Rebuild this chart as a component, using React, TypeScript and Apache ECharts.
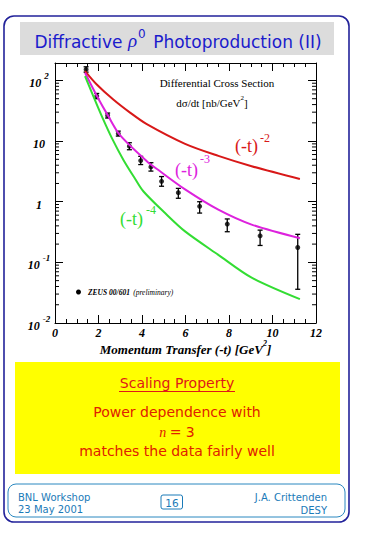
import React, { useEffect, useRef } from "react";
import * as echarts from "echarts";

// ---- data ----
const tData = [1.43, 1.92, 2.42, 2.91, 3.42, 3.94, 4.41, 4.9, 5.67, 6.65, 7.92, 9.43, 11.16];
const xsData = [152, 55.2, 26.4, 13.3, 8.24, 4.77, 3.75, 2.17, 1.41, 0.84, 0.428, 0.274, 0.176];
const errHi = [168, 61, 29, 14.6, 9.4, 5.6, 4.4, 2.6, 1.66, 1.0, 0.52, 0.34, 0.29];
const errLo = [137, 50, 24, 12.1, 7.2, 4.1, 3.2, 1.8, 1.14, 0.65, 0.32, 0.19, 0.036];

const redT = [1.38, 1.92, 2.68, 3.45, 4.22, 5.98, 7.51, 9.04, 11.26];
const redV = [143, 86, 48.5, 29.5, 19.0, 9.0, 5.7, 3.85, 2.37];
const magT = [1.38, 1.92, 2.45, 2.99, 4.22, 4.83, 5.98, 7.51, 9.04, 11.26];
const magV = [134, 56, 25.8, 12.5, 4.66, 3.18, 1.6, 0.74, 0.42, 0.25];
const grnT = [1.38, 1.76, 2.15, 2.61, 3.14, 3.68, 4.06, 5.06, 5.98, 7.51, 9.04, 11.26];
const grnV = [118, 55.2, 25.8, 11.3, 4.94, 2.4, 1.49, 0.65, 0.324, 0.133, 0.056, 0.0247];

const yTickLabels: Record<string, string> = {
  "100": "{b|10}{s|2}",
  "10": "{b|10}",
  "1": "{b|1}",
  "0.1": "{b|10}{s|-1}",
  "0.01": "{b|10}{s|-2}",
};
const minorTickValues: number[] = [];
[0.01, 0.1, 1, 10].forEach((d) => {
  for (let k = 2; k <= 9; k++) minorTickValues.push(+(k * d).toPrecision(3));
});

const RED = "#d81818";
const MAG = "#dd22dd";
const GRN = "#33dd33";
const SERIF = "'Liberation Serif', 'DejaVu Serif', serif";
const SANS = "'DejaVu Sans', Verdana, sans-serif";
const FOOT = "#1a7ab8";
const YTXT = "#e02000";

export default function App() {
  const ref = useRef<HTMLDivElement>(null);
  useEffect(() => {
    if (!ref.current) return;
    const chart = echarts.init(ref.current, null, { renderer: "svg" });
    const axisCommon = {
      axisLine: { show: true, onZero: false, lineStyle: { color: "#000", width: 1 } },
      splitLine: { show: false },
    };
    const option: any = {
      animation: false,
      backgroundColor: "#fff",
      grid: { left: 55, top: 63, width: 261, height: 260, containLabel: false },
      xAxis: [
        {
          type: "value",
          min: 0,
          max: 12,
          interval: 2,
          ...axisCommon,
          axisTick: { show: true, inside: true, length: 8, lineStyle: { color: "#000" } },
          minorTick: { show: true, splitNumber: 4, length: 4, lineStyle: { color: "#000" } },
          axisLabel: {
            margin: 4,
            fontFamily: SERIF,
            fontStyle: "italic",
            fontWeight: "bold",
            fontSize: 12,
            color: "#000",
          },
          name: "{n|Momentum Transfer (-t) [GeV}{s|2}{n|]}",
          nameLocation: "middle",
          nameGap: 11,
          nameTextStyle: {
            rich: {
              n: { fontFamily: SERIF, fontStyle: "italic", fontWeight: "bold", fontSize: 13, color: "#000", verticalAlign: "bottom", lineHeight: 16 },
              s: { fontFamily: SERIF, fontStyle: "italic", fontWeight: "bold", fontSize: 8, color: "#000", verticalAlign: "top", lineHeight: 16 },
            },
          },
        },
        {
          type: "value",
          position: "top",
          min: 0,
          max: 12,
          interval: 2,
          ...axisCommon,
          axisTick: { show: true, inside: true, length: 8, lineStyle: { color: "#000" } },
          minorTick: { show: true, splitNumber: 4, length: 4, lineStyle: { color: "#000" } },
          axisLabel: { show: false },
        },
      ],
      yAxis: [
        {
          type: "log",
          logBase: 10,
          min: 0.01,
          max: 194,
          ...axisCommon,
          axisTick: { show: true, inside: true, length: 8, lineStyle: { color: "#000" } },
          axisLabel: {
            showMaxLabel: false,
            align: "center",
            margin: 16,
            formatter: (v: number) => yTickLabels[String(+v.toPrecision(3))] ?? "",
            rich: {
              b: { fontFamily: SERIF, fontStyle: "italic", fontWeight: "bold", fontSize: 12, color: "#000", verticalAlign: "bottom", lineHeight: 18 },
              s: { fontFamily: SERIF, fontStyle: "italic", fontWeight: "bold", fontSize: 9, color: "#000", verticalAlign: "top", lineHeight: 18, padding: [0, 0, 0, 3] },
            },
          },
        },
        {
          type: "log",
          logBase: 10,
          position: "right",
          min: 0.01,
          max: 194,
          ...axisCommon,
          axisTick: { show: true, inside: true, length: 8, lineStyle: { color: "#000" } },
          axisLabel: { show: false },
        },
      ],
      series: [
        {
          type: "custom",
          name: "minorTicks",
          silent: true,
          clip: false,
          data: minorTickValues.map((v) => [0, v]),
          encode: { x: 0, y: 1 },
          renderItem: (_p: any, api: any) => {
            const v = api.value(1);
            const a = api.coord([0, v]);
            const b = api.coord([12, v]);
            return {
              type: "group",
              children: [
                { type: "line", shape: { x1: a[0], y1: a[1], x2: a[0] + 4, y2: a[1] }, style: { stroke: "#000", lineWidth: 1 } },
                { type: "line", shape: { x1: b[0] - 4, y1: b[1], x2: b[0], y2: b[1] }, style: { stroke: "#000", lineWidth: 1 } },
              ],
            };
          },
        },
        {
          type: "line",
          name: "(-t)^-2",
          smooth: 0.3,
          symbol: "none",
          data: redT.map((t, i) => [t, redV[i]]),
          lineStyle: { color: RED, width: 2 },
        },
        {
          type: "line",
          name: "(-t)^-3",
          smooth: 0.3,
          symbol: "none",
          data: magT.map((t, i) => [t, magV[i]]),
          lineStyle: { color: MAG, width: 2 },
        },
        {
          type: "line",
          name: "(-t)^-4",
          smooth: 0.3,
          symbol: "none",
          data: grnT.map((t, i) => [t, grnV[i]]),
          lineStyle: { color: GRN, width: 2 },
        },
        {
          type: "custom",
          name: "errors",
          data: tData.map((t, i) => [t, errLo[i], errHi[i]]),
          encode: { x: 0, y: [1, 2] },
          renderItem: (_p: any, api: any) => {
            const t = api.value(0);
            const lo = api.coord([t, api.value(1)]);
            const hi = api.coord([t, api.value(2)]);
            const st = { stroke: "#000", lineWidth: 1.3 };
            return {
              type: "group",
              children: [
                { type: "line", shape: { x1: hi[0], y1: hi[1], x2: lo[0], y2: lo[1] }, style: st },
                { type: "line", shape: { x1: hi[0] - 2.5, y1: hi[1], x2: hi[0] + 2.5, y2: hi[1] }, style: st },
                { type: "line", shape: { x1: lo[0] - 2.5, y1: lo[1], x2: lo[0] + 2.5, y2: lo[1] }, style: st },
              ],
            };
          },
        },
        {
          type: "scatter",
          name: "ZEUS",
          symbol: "circle",
          symbolSize: 5,
          itemStyle: { color: "#000" },
          data: tData.map((t, i) => [t, xsData[i]]),
        },
      ],
      graphic: [
        // outer slide frame
        { type: "rect", shape: { x: 4, y: 16, width: 345, height: 506, r: 10 }, style: { fill: "none", stroke: "#22229a", lineWidth: 1.6 }, z: -10 },
        // title box
        { type: "rect", shape: { x: 20, y: 22, width: 314, height: 33 }, style: { fill: "#dcdcdc" }, z: -9 },
        {
          type: "text",
          x: 178,
          y: 39,
          style: {
            text: "{a|Diffractive }{r|ρ}{s|0}{a| Photoproduction (II)}",
            align: "center",
            verticalAlign: "middle",
            rich: {
              a: { fontFamily: SANS, fontSize: 17, fill: "#1b1bcc", verticalAlign: "bottom", lineHeight: 22 },
              r: { fontFamily: SERIF, fontStyle: "italic", fontSize: 19, fill: "#1b1bcc", verticalAlign: "bottom", lineHeight: 22 },
              s: { fontFamily: SANS, fontSize: 12, fill: "#1b1bcc", verticalAlign: "top", lineHeight: 22, padding: [0, 2, 0, 1] },
            },
          },
        },
        // in-plot texts
        { type: "text", x: 217, y: 83, style: { text: "Differential Cross Section", fontFamily: SERIF, fontSize: 11, fill: "#000", align: "center", verticalAlign: "middle" } },
        {
          type: "text",
          x: 212,
          y: 101,
          style: {
            text: "{a|dσ/dt [nb/GeV}{s|2}{a|]}",
            align: "center",
            verticalAlign: "middle",
            rich: {
              a: { fontFamily: SERIF, fontSize: 11, fill: "#000", verticalAlign: "bottom", lineHeight: 14 },
              s: { fontFamily: SERIF, fontSize: 7, fill: "#000", verticalAlign: "top", lineHeight: 14 },
            },
          },
        },
        // curve labels
        { type: "text", x: 235, y: 146, style: { text: "(-t)", fontFamily: SERIF, fontSize: 18, fill: RED, verticalAlign: "middle" } },
        { type: "text", x: 260, y: 138, style: { text: "-2", fontFamily: SERIF, fontSize: 12, fill: RED, verticalAlign: "middle" } },
        { type: "text", x: 175, y: 170, style: { text: "(-t)", fontFamily: SERIF, fontSize: 18, fill: MAG, verticalAlign: "middle" } },
        { type: "text", x: 200, y: 159, style: { text: "-3", fontFamily: SERIF, fontSize: 12, fill: MAG, verticalAlign: "middle" } },
        { type: "text", x: 120, y: 219, style: { text: "(-t)", fontFamily: SERIF, fontSize: 18, fill: GRN, verticalAlign: "middle" } },
        { type: "text", x: 146, y: 210, style: { text: "-4", fontFamily: SERIF, fontSize: 12, fill: GRN, verticalAlign: "middle" } },
        // legend
        { type: "circle", shape: { cx: 78.5, cy: 292, r: 2.5 }, style: { fill: "#000" } },
        {
          type: "text",
          x: 88,
          y: 292,
          style: {
            text: "{b|ZEUS 00/601} {i|(preliminary)}",
            verticalAlign: "middle",
            rich: {
              b: { fontFamily: SERIF, fontStyle: "italic", fontWeight: "bold", fontSize: 7.5, fill: "#000" },
              i: { fontFamily: SERIF, fontStyle: "italic", fontSize: 7.5, fill: "#000" },
            },
          },
        },
        // yellow box
        { type: "rect", shape: { x: 15, y: 362, width: 325, height: 112 }, style: { fill: "#ffff00" }, z: -9 },
        { type: "text", x: 177, y: 383, style: { text: "Scaling Property", fontFamily: SANS, fontSize: 14, fill: "#e01818", align: "center", verticalAlign: "middle" } },
        { type: "line", shape: { x1: 119, y1: 391.5, x2: 235, y2: 391.5 }, style: { stroke: "#e01818", lineWidth: 1 } },
        { type: "text", x: 177, y: 412, style: { text: "Power dependence with", fontFamily: SANS, fontSize: 14, fill: YTXT, align: "center", verticalAlign: "middle" } },
        {
          type: "text",
          x: 177,
          y: 432,
          style: {
            text: "{n|n} {a|= 3}",
            align: "center",
            verticalAlign: "middle",
            rich: {
              n: { fontFamily: SERIF, fontStyle: "italic", fontSize: 14, fill: YTXT },
              a: { fontFamily: SANS, fontSize: 14, fill: YTXT },
            },
          },
        },
        { type: "text", x: 177, y: 451, style: { text: "matches the data fairly well", fontFamily: SANS, fontSize: 14, fill: YTXT, align: "center", verticalAlign: "middle" } },
        // footer
        { type: "rect", shape: { x: 8, y: 484, width: 337, height: 33, r: 8 }, style: { fill: "none", stroke: "#2a88c0", lineWidth: 1 } },
        { type: "text", x: 18, y: 497, style: { text: "BNL Workshop", fontFamily: SANS, fontSize: 10, fill: FOOT, verticalAlign: "middle" } },
        { type: "text", x: 18, y: 509.5, style: { text: "23 May 2001", fontFamily: SANS, fontSize: 10, fill: FOOT, verticalAlign: "middle" } },
        { type: "rect", shape: { x: 161, y: 495, width: 21.5, height: 14, r: 2 }, style: { fill: "none", stroke: FOOT, lineWidth: 1 } },
        { type: "text", x: 172, y: 502.5, style: { text: "16", fontFamily: SANS, fontSize: 10.5, fill: FOOT, align: "center", verticalAlign: "middle" } },
        { type: "text", x: 327, y: 497.5, style: { text: "J.A. Crittenden", fontFamily: SANS, fontSize: 10, fill: FOOT, align: "right", verticalAlign: "middle" } },
        { type: "text", x: 327, y: 510, style: { text: "DESY", fontFamily: SANS, fontSize: 10, fill: FOOT, align: "right", verticalAlign: "middle" } },
      ],
    };
    chart.setOption(option);
    return () => chart.dispose();
  }, []);
  return (
    <div
      ref={ref}
      style={{ position: "absolute", left: 0, top: 0, width: 365, height: 535 }}
    />
  );
}
